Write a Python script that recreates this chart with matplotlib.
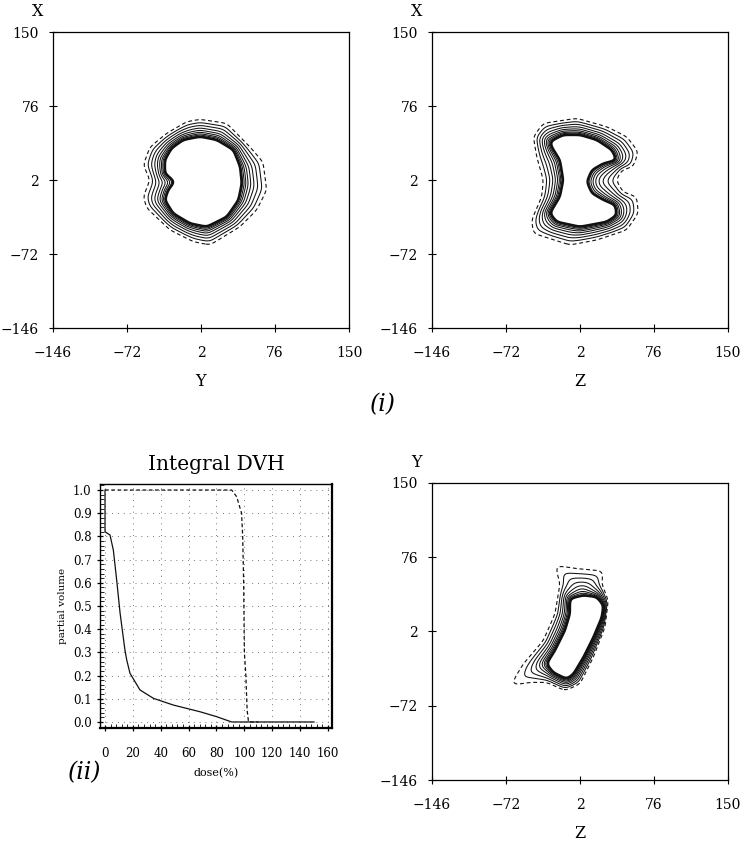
import numpy as np
import matplotlib
matplotlib.use("Agg")
import matplotlib.pyplot as plt
from matplotlib.path import Path
from matplotlib.ticker import MultipleLocator, FixedLocator

SERIF = ["DejaVu Serif"]
plt.rcParams["font.family"] = SERIF
plt.rcParams["axes.unicode_minus"] = True

# ---------------------------------------------------------------------------
# Planar dose views: tick positions (mm)
plane_ticks = [-146, -72, 2, 76, 150]

# Each view: outline of the high-dose (target) region and of the lowest isodose,
# as (horizontal, vertical) points in mm.
xy_inner = [(1, 45.3), (17.7, 42), (34.3, 32), (41, 15.3), (42.7, -1.3), (39.3, -18),
            (27.7, -34.7), (7.7, -44.7), (-9, -41.3), (-25.7, -31.3), (-34, -18),
            (-30.7, -8), (-24, 0.3), (-34, 8.7), (-34, 22), (-27.3, 33.7), (-15.7, 42)]
xy_outer = [(1, 62.7), (27.7, 58.7), (51, 35), (64, 20), (67.7, -8), (57.7, -28),
            (41, -44.7), (11, -63), (-5.7, -59.7), (-29, -48), (-52.3, -26),
            (-55.7, -14.7), (-49, 2), (-55.7, 17), (-49, 35), (-32.3, 48.7), (-12.3, 60.3)]

zx_inner = [(-28, 40.3), (-14.7, 47), (2, 47), (18.7, 42), (33.7, 32), (38.7, 22),
            (25.3, 18.7), (13.7, 12), (8.7, 0.3), (13.7, -11.3), (25.3, -18), (37, -23),
            (38.7, -33), (28.7, -39.7), (2, -44.7), (-21.3, -39.7), (-28, -31.3),
            (-18, -14.7), (-14.7, 2), (-18, 22), (-26.3, 35.3)]
zx_outer = [(-44.7, 45.3), (-34.7, 58.7), (-1.3, 63.7), (28.7, 55.3), (48.7, 45.3),
            (60.3, 30.3), (55.3, 15.3), (44, 12), (38, 2), (45, -10), (58.7, -14.7),
            (60.3, -31.3), (48.7, -48), (18.7, -58), (-8, -63), (-44.7, -51.3),
            (-46.3, -38), (-36.3, -14.7), (-34.7, 2), (-41.3, 25.3)]

zy_inner = [(-8, 34.7), (5.3, 38), (18.7, 36.3), (25.3, 28), (23.7, 16.3), (15.3, -3.7),
            (5.3, -23.7), (-4.7, -40.3), (-11.3, -45.3), (-24.7, -38.7), (-31.3, -30.3),
            (-23, -17), (-13, 3), (-8, 19.7)]
zy_outer = [(-23, 68), (-1.3, 64.7), (25.3, 62.3), (23.7, 49.7), (30.3, 33), (27, 6.3),
            (15.3, -23.7), (2, -50.3), (-13, -57), (-31.3, -48.7), (-48, -48.7),
            (-68, -52), (-54.7, -30.3), (-34.7, -7), (-23, 19.7), (-18, 49.7)]

# Isodose lines as fractions of the way from target outline (0) to lowest isodose (1)
solid_levels = [0.0, 0.05, 0.11, 0.18, 0.27, 0.38, 0.51, 0.66, 0.82]
dashed_levels = [1.0]

# ---------------------------------------------------------------------------
# Integral DVH
dose_normal = [0, 0, 3.6, 6, 8.4, 10.8, 14.3, 15.6, 17.9, 25.1, 34.7, 49, 68.2, 80, 90.9, 150]
vol_normal = [1.0, 0.82, 0.806, 0.74, 0.61, 0.47, 0.31, 0.267, 0.21, 0.138, 0.102,
              0.073, 0.044, 0.023, 0.0, 0.0]
dose_target = [0, 90.9, 94.5, 98, 98.8, 99.5, 100, 101, 102, 103, 110]
vol_target = [1.0, 1.0, 0.971, 0.9, 0.8, 0.6, 0.3, 0.21, 0.05, 0.0, 0.0]
dvh_xticks = [0, 20, 40, 60, 80, 100, 120, 140, 160]
dvh_yticks = [0.0, 0.1, 0.2, 0.3, 0.4, 0.5, 0.6, 0.7, 0.8, 0.9, 1.0]


def signed_distance(poly, X, Y):
    """Distance to the polygon boundary, negative inside."""
    P = np.asarray(poly, float)
    pts = np.column_stack([X.ravel(), Y.ravel()])
    d = np.full(len(pts), np.inf)
    for a, b in zip(P, np.roll(P, -1, axis=0)):
        ab = b - a
        t = np.clip(((pts - a) @ ab) / (ab @ ab), 0.0, 1.0)
        proj = a + t[:, None] * ab
        d = np.minimum(d, np.hypot(pts[:, 0] - proj[:, 0], pts[:, 1] - proj[:, 1]))
    inside = Path(P).contains_points(pts)
    d[inside] *= -1
    return d.reshape(X.shape)


def gaussian_smooth(A, sigma):
    """Separable Gaussian blur with edge padding (sigma in grid cells)."""
    r = int(3 * sigma)
    k = np.exp(-0.5 * (np.arange(-r, r + 1) / sigma) ** 2)
    k /= k.sum()
    P = np.pad(A, r, mode="edge")
    P = np.apply_along_axis(lambda m: np.convolve(m, k, mode="valid"), 0, P)
    P = np.apply_along_axis(lambda m: np.convolve(m, k, mode="valid"), 1, P)
    return P


STEP = 0.5
g = np.arange(-146, 150.01, STEP)
GU, GV = np.meshgrid(g, g)


def isodose_field(inner, outer):
    s_in = gaussian_smooth(signed_distance(inner, GU, GV), 2.5 / STEP)
    s_out = gaussian_smooth(signed_distance(outer, GU, GV), 3.0 / STEP)
    return s_in / np.maximum(s_in - s_out, 1e-6)


def plane_view(rect, inner, outer, hlabel, vlabel):
    ax = fig.add_axes(rect)
    T = isodose_field(inner, outer)
    ax.contour(GU, GV, T, levels=solid_levels, colors="#111111",
               linewidths=[1.7] + [0.75] * (len(solid_levels) - 1))
    ax.contour(GU, GV, T, levels=dashed_levels, colors="#111111",
               linewidths=0.8, linestyles=[(0, (3.5, 2.5))])
    ax.set_xlim(plane_ticks[0], plane_ticks[-1])
    ax.set_ylim(plane_ticks[0], plane_ticks[-1])
    ax.set_xticks(plane_ticks)
    ax.set_yticks(plane_ticks)
    ax.tick_params(direction="inout", length=6, width=0.8, labelsize=10)
    ax.tick_params(axis="y", pad=7)
    ax.tick_params(axis="x", pad=10)
    for s in ax.spines.values():
        s.set_linewidth(0.9)
    x0, y0, w, h = rect
    fig.text(x0 + w / 2, y0 - 0.063, hlabel, ha="center", va="center", fontsize=11.5)
    fig.text(x0 - 0.021, y0 + h + 0.024, vlabel, ha="center", va="center", fontsize=11.5)
    return ax


W, H = 742, 846
fig = plt.figure(figsize=(W / 100, H / 100), dpi=100)

plane_view([53 / W, 1 - 328 / H, 296 / W, 296 / H], xy_inner, xy_outer, "Y", "X")
plane_view([432 / W, 1 - 328 / H, 296 / W, 296 / H], zx_inner, zx_outer, "Z", "X")
plane_view([432 / W, 1 - 780 / H, 296 / W, 297 / H], zy_inner, zy_outer, "Z", "Y")

# DVH panel
ax = fig.add_axes([100 / W, 1 - 728 / H, 232 / W, 244 / H])
ax.plot(dose_normal, vol_normal, color="#111111", lw=0.9)
ax.plot(dose_target, vol_target, color="#111111", lw=0.9, linestyle=(0, (3, 2)))
ax.set_xlim(-3.6, 162.9)
ax.set_ylim(-0.026, 1.026)
ax.xaxis.set_major_locator(FixedLocator(dvh_xticks))
ax.yaxis.set_major_locator(FixedLocator(dvh_yticks))
ax.xaxis.set_minor_locator(MultipleLocator(4))
ax.yaxis.set_minor_locator(MultipleLocator(0.02))
ax.set_yticklabels([f"{v:.1f}" for v in dvh_yticks])
ax.grid(True, which="major", color="#777777", linewidth=0.7, linestyle=(0, (1, 5)))
ax.tick_params(which="major", direction="inout", length=5, width=0.9, labelsize=8.5)
ax.tick_params(axis="x", which="major", pad=11)
ax.tick_params(which="minor", direction="in", length=3, width=0.6)
for s in ax.spines.values():
    s.set_linewidth(1.0)
ax.spines["right"].set_linewidth(1.6)
ax.spines["bottom"].set_linewidth(1.6)
ax.set_title("Integral DVH", fontsize=14.5, pad=10)
ax.set_xlabel("dose(%)", fontsize=8, labelpad=6)
ax.set_ylabel("partial volume", fontsize=7.5, labelpad=4)

fig.text(383 / W, 1 - 405 / H, "(i)", fontsize=17, style="italic", ha="center", va="center")
fig.text(85 / W, 1 - 773 / H, "(ii)", fontsize=17, style="italic", ha="center", va="center")

fig.savefig("out.png", dpi=100)
